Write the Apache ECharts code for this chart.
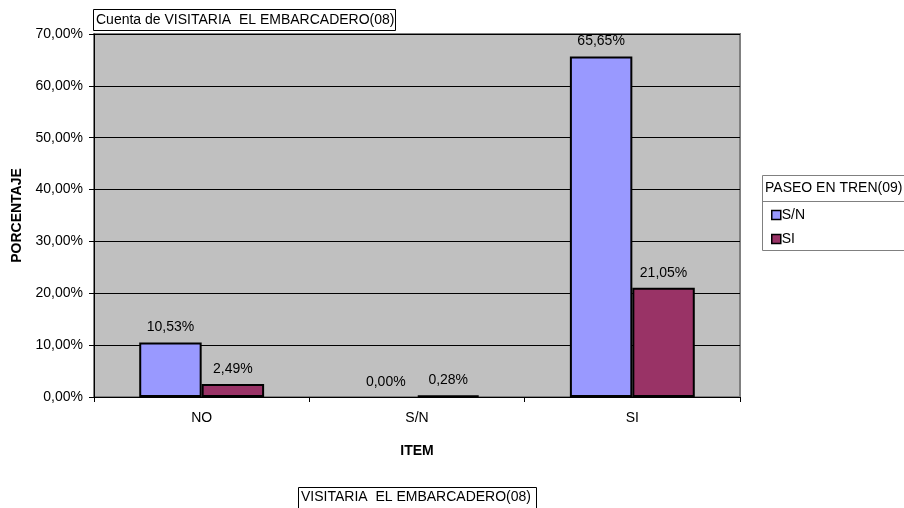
<!DOCTYPE html>
<html>
<head>
<meta charset="utf-8">
<script src="https://cdn.jsdelivr.net/npm/echarts@6/dist/echarts.min.js"></script>
<style>
html,body{margin:0;padding:0;background:#fff;}
#c{width:904px;height:508px;}
</style>
</head>
<body>
<div id="c"></div>
<script>
var categories = ['NO', 'S/N', 'SI'];
var seriesNames = ['S/N', 'SI'];
var valuesSN = [10.53, 0.00, 65.65];
var valuesSI = [2.49, 0.28, 21.05];
var seriesColors = ['#9999FF', '#993366'];

var FONT = 'Liberation Sans, Arial, sans-serif';
var FS = 14;

function fmt(v) {
  return v.toFixed(2).replace('.', ',') + '%';
}

var chart = echarts.init(document.getElementById('c'), null, {renderer: 'canvas'});

function mkSeries(name, data, color) {
  return {
    name: name,
    type: 'bar',
    data: data.map(function (v) {
      return v === 0 ? {value: v, itemStyle: {borderWidth: 0}} : v;
    }),
    barGap: '0%',
    barCategoryGap: '42%',
    itemStyle: {color: color, borderColor: '#000', borderWidth: 2},
    label: {
      show: true,
      position: 'top',
      distance: 8,
      color: '#000',
      fontFamily: FONT,
      fontSize: FS,
      formatter: function (p) { return fmt(p.value); }
    },
    emphasis: {disabled: true},
    animation: false
  };
}

chart.setOption({
  animation: false,
  backgroundColor: '#fff',
  textStyle: {fontFamily: FONT},
  grid: {left: 94, right: 164, top: 34, bottom: 111, containLabel: false,
         show: true, backgroundColor: '#C0C0C0', borderColor: '#808080', borderWidth: 2},
  legend: {
    orient: 'vertical',
    left: 766,
    top: 203,
    itemWidth: 9,
    itemHeight: 9,
    itemGap: 10,
    icon: 'rect',
    textStyle: {fontFamily: FONT, fontSize: FS, color: '#000', padding: [0, 0, 0, -4]},
    itemStyle: {borderColor: '#000', borderWidth: 1.5},
    data: seriesNames,
    selectedMode: false
  },
  xAxis: {
    type: 'category',
    data: categories,
    name: 'ITEM',
    nameLocation: 'middle',
    nameGap: 47,
    nameTextStyle: {fontFamily: FONT, fontSize: 14, fontWeight: 'bold', color: '#000'},
    axisLine: {lineStyle: {color: '#000', width: 1}},
    axisTick: {show: true, length: 5, lineStyle: {color: '#000'}},
    axisLabel: {fontFamily: FONT, fontSize: FS, color: '#000', margin: 14}
  },
  yAxis: {
    type: 'value',
    min: 0,
    max: 70,
    interval: 10,
    name: 'PORCENTAJE',
    nameLocation: 'middle',
    nameRotate: 90,
    nameGap: 63,
    nameTextStyle: {fontFamily: FONT, fontSize: 14, fontWeight: 'bold', color: '#000'},
    axisLine: {show: true, lineStyle: {color: '#000', width: 1}},
    axisTick: {show: true, length: 5, lineStyle: {color: '#000'}},
    axisLabel: {fontFamily: FONT, fontSize: FS, color: '#000', margin: 11,
                formatter: function (v) { return fmt(v); }},
    splitLine: {show: true, lineStyle: {color: '#000', width: 1}}
  },
  series: [
    mkSeries(seriesNames[0], valuesSN, seriesColors[0]),
    mkSeries(seriesNames[1], valuesSI, seriesColors[1])
  ],
  graphic: [
    {type: 'rect', shape: {x: 93.5, y: 9.5, width: 302, height: 21},
     style: {fill: '#fff', stroke: '#000', lineWidth: 1}},
    {type: 'text', x: 96, y: 20,
     style: {text: 'Cuenta de VISITARIA  EL EMBARCADERO(08)', font: FS + 'px ' + FONT, fill: '#000', textVerticalAlign: 'middle'}},
    {type: 'rect', shape: {x: 298.5, y: 487.5, width: 238, height: 25},
     style: {fill: '#fff', stroke: '#000', lineWidth: 1}},
    {type: 'text', x: 301, y: 497,
     style: {text: 'VISITARIA  EL EMBARCADERO(08)', font: FS + 'px ' + FONT, fill: '#000', textVerticalAlign: 'middle'}},
    {type: 'rect', shape: {x: 762.5, y: 175.5, width: 160, height: 75},
     style: {fill: 'none', stroke: '#808080', lineWidth: 1}, z: 10},
    {type: 'line', shape: {x1: 762.5, y1: 201.5, x2: 904, y2: 201.5},
     style: {stroke: '#808080', lineWidth: 1}, z: 10},
    {type: 'text', x: 765, y: 188,
     style: {text: 'PASEO EN TREN(09)', font: FS + 'px ' + FONT, fill: '#000', textVerticalAlign: 'middle'}}
  ]
});
</script>
</body>
</html>
